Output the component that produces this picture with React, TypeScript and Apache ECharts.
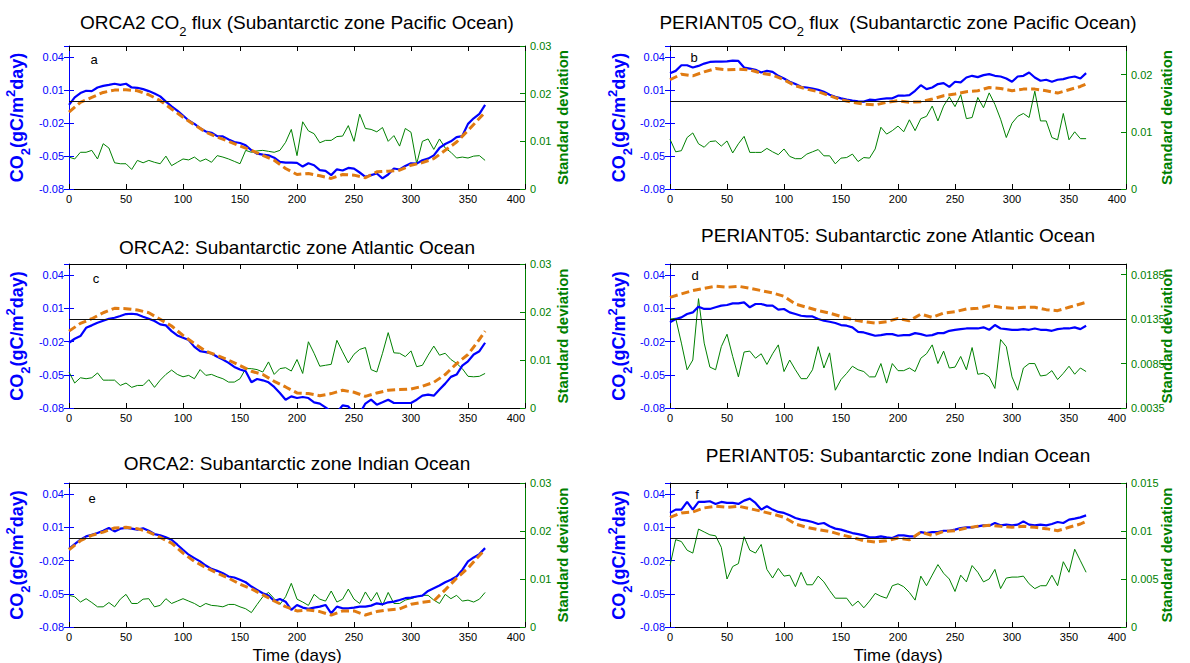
import { useEffect, useRef } from "react";
import * as echarts from "echarts";

const FONT = "'Liberation Sans', Arial, Helvetica, sans-serif";
const BLUE = "#0000ff";
const GREEN = "#008000";
const ORANGE = "#e07b12";

// Day of year for the daily flux and standard deviation series (5-day sampling)
const days5 = [
  0, 5, 10, 15, 20, 25, 30, 35, 40, 45,
  50, 55, 60, 65, 70, 75, 80, 85, 90, 95,
  100, 105, 110, 115, 120, 125, 130, 135, 140, 145,
  150, 155, 160, 165, 170, 175, 180, 185, 190, 195,
  200, 205, 210, 215, 220, 225, 230, 235, 240, 245,
  250, 255, 260, 265, 270, 275, 280, 285, 290, 295,
  300, 305, 310, 315, 320, 325, 330, 335, 340, 345,
  350, 355, 360, 365,
];
// Day of year for the smoothed (dashed) series
const days10 = [
  0, 10, 20, 30, 40, 50, 60, 70, 80, 90,
  100, 110, 120, 130, 140, 150, 160, 170, 180, 190,
  200, 210, 220, 230, 240, 250, 260, 270, 280, 290,
  300, 310, 320, 330, 340, 350, 360, 365,
];

// (a) ORCA2, Pacific
const aFlux = [
  -0.0036, 0.0033, 0.0072, 0.0093, 0.009, 0.0123, 0.0138, 0.0147, 0.0157, 0.0147,
  0.0157, 0.0123, 0.012, 0.0108, 0.009, 0.0069, 0.0042, -0.0006, -0.0048, -0.0087,
  -0.0132, -0.0177, -0.0208, -0.0247, -0.0277, -0.0289, -0.0319, -0.0322, -0.0349, -0.0373,
  -0.0382, -0.0403, -0.0448, -0.0479, -0.0488, -0.0494, -0.0515, -0.0554, -0.056, -0.056,
  -0.0563, -0.0596, -0.0566, -0.0584, -0.0629, -0.0635, -0.0674, -0.0621, -0.0632, -0.0608,
  -0.0614, -0.065, -0.0689, -0.0674, -0.0659, -0.0704, -0.0668, -0.0614, -0.0623, -0.059,
  -0.0566, -0.0569, -0.0539, -0.0524, -0.0494, -0.0427, -0.0391, -0.0367, -0.0328, -0.0319,
  -0.0208, -0.0157, -0.0117, -0.0036,
];
const aMean = [
  -0.0102, -0.0012, 0.0033, 0.0078, 0.0099, 0.0102, 0.0093, 0.0057, 0.0003, -0.0072,
  -0.0147, -0.0217, -0.0283, -0.0328, -0.0367, -0.0409, -0.0448, -0.0494, -0.0539, -0.0614,
  -0.0668, -0.0659, -0.068, -0.0704, -0.0668, -0.0674, -0.0698, -0.0644, -0.0638, -0.0629,
  -0.0584, -0.056, -0.0524, -0.0448, -0.0373, -0.0268, -0.0157, -0.0102,
];
const aStd = [
  0.0067, 0.0063, 0.0077, 0.0077, 0.0081, 0.0063, 0.0095, 0.0086, 0.0055, 0.0053,
  0.0053, 0.0041, 0.006, 0.0055, 0.006, 0.0056, 0.0053, 0.0069, 0.0049, 0.0056,
  0.0063, 0.0061, 0.0067, 0.0058, 0.0063, 0.0056, 0.007, 0.0067, 0.0063, 0.0058,
  0.0053, 0.0081, 0.0077, 0.008, 0.0081, 0.0079, 0.0077, 0.0081, 0.0098, 0.0125,
  0.007, 0.0141, 0.0122, 0.0116, 0.0097, 0.0102, 0.0102, 0.011, 0.0111, 0.0133,
  0.01, 0.0157, 0.0127, 0.0125, 0.012, 0.0129, 0.01, 0.0112, 0.009, 0.0127,
  0.0119, 0.0053, 0.01, 0.0105, 0.0083, 0.0105, 0.0086, 0.0077, 0.0065, 0.0067,
  0.0065, 0.0069, 0.007, 0.006,
];

// (b) PERIANT05, Pacific
const bFlux = [
  0.0253, 0.0274, 0.0325, 0.0325, 0.0304, 0.0319, 0.034, 0.0355, 0.0358, 0.0358,
  0.0361, 0.0367, 0.0364, 0.0304, 0.0295, 0.0283, 0.0259, 0.0274, 0.0265, 0.0229,
  0.0205, 0.0175, 0.0154, 0.0129, 0.0123, 0.0114, 0.0102, 0.0084, 0.0057, 0.0039,
  0.0024, 0.0012, 0.0003, -0.0003, -0.0006, 0.0012, 0.0009, 0.0018, 0.0024, 0.0024,
  0.0048, 0.0048, 0.0054, 0.0093, 0.0144, 0.0108, 0.0123, 0.0154, 0.0163, 0.0129,
  0.0175, 0.0169, 0.0214, 0.0229, 0.0217, 0.0235, 0.0244, 0.0229, 0.0223, 0.0205,
  0.0175, 0.0223, 0.0229, 0.0259, 0.0214, 0.0184, 0.0193, 0.0175, 0.0193, 0.0199,
  0.0214, 0.0223, 0.0205, 0.0253,
];
const bMean = [
  0.0193, 0.0244, 0.0229, 0.0265, 0.0295, 0.0283, 0.0289, 0.0283, 0.0253, 0.0235,
  0.0193, 0.0138, 0.0108, 0.0084, 0.0048, 0.0012, -0.0012, -0.0027, -0.0036, -0.0012,
  0.0003, -0.0012, -0.0006, 0.0018, 0.0048, 0.0063, 0.0084, 0.0093, 0.0123, 0.0114,
  0.0093, 0.0108, 0.0108, 0.0093, 0.0072, 0.0102, 0.0132, 0.0154,
];
const bStd = [
  0.0087, 0.0065, 0.0067, 0.009, 0.0098, 0.0079, 0.0073, 0.0083, 0.0084, 0.0075,
  0.0084, 0.0063, 0.0079, 0.0092, 0.0064, 0.0064, 0.0064, 0.0071, 0.0065, 0.006,
  0.007, 0.0057, 0.0053, 0.0053, 0.0061, 0.0065, 0.0069, 0.0058, 0.0058, 0.0044,
  0.0054, 0.0055, 0.0061, 0.0048, 0.0055, 0.0054, 0.007, 0.0108, 0.0096, 0.0102,
  0.011, 0.01, 0.0121, 0.0102, 0.0123, 0.0127, 0.0145, 0.0119, 0.0145, 0.0161,
  0.0144, 0.0165, 0.0123, 0.0125, 0.016, 0.0142, 0.0168, 0.0148, 0.0122, 0.009,
  0.0115, 0.0127, 0.0132, 0.0125, 0.0171, 0.0119, 0.0119, 0.009, 0.0086, 0.0132,
  0.0086, 0.01, 0.0088, 0.0088,
];

// (c) ORCA2, Atlantic
const cFlux = [
  -0.0211, -0.0175, -0.0151, -0.0076, -0.0054, -0.003, -0.0012, 0.0006, 0.0015, 0.003,
  0.0048, 0.0051, 0.0045, 0.0024, 0.0006, -0.0015, -0.0045, -0.0054, -0.0106, -0.0145,
  -0.0166, -0.0187, -0.0248, -0.0287, -0.0296, -0.0308, -0.0338, -0.0362, -0.0393, -0.0429,
  -0.0453, -0.0468, -0.0568, -0.0538, -0.055, -0.0568, -0.061, -0.0664, -0.0725, -0.0695,
  -0.071, -0.0701, -0.071, -0.0749, -0.0761, -0.0795, -0.083, -0.084, -0.0776, -0.0785,
  -0.085, -0.085, -0.076, -0.0725, -0.077, -0.0749, -0.0725, -0.0755, -0.0755, -0.0755,
  -0.0755, -0.0725, -0.0689, -0.068, -0.0689, -0.0634, -0.058, -0.0519, -0.0498, -0.0417,
  -0.0378, -0.0317, -0.0287, -0.0211,
];
const cMean = [
  -0.0106, -0.0036, 0.0006, 0.006, 0.01, 0.0097, 0.0085, 0.006, 0.0, -0.006,
  -0.0145, -0.0217, -0.0287, -0.0326, -0.0368, -0.0417, -0.0468, -0.0498, -0.0559, -0.061,
  -0.0664, -0.067, -0.0689, -0.067, -0.064, -0.0658, -0.0695, -0.0664, -0.064, -0.0634,
  -0.0628, -0.0604, -0.0568, -0.0498, -0.0399, -0.0317, -0.0181, -0.0106,
];
const cStd = [
  0.0075, 0.0052, 0.0063, 0.0061, 0.0063, 0.0073, 0.0058, 0.0058, 0.0058, 0.0047,
  0.0052, 0.0043, 0.0047, 0.0047, 0.0059, 0.0043, 0.0058, 0.007, 0.0079, 0.007,
  0.0065, 0.0068, 0.0061, 0.008, 0.0068, 0.007, 0.0065, 0.0061, 0.0054, 0.0054,
  0.0061, 0.0082, 0.0082, 0.008, 0.0075, 0.0096, 0.007, 0.0082, 0.0084, 0.0077,
  0.0101, 0.0072, 0.0138, 0.0114, 0.0087, 0.0089, 0.0091, 0.0141, 0.0117, 0.0094,
  0.0112, 0.0122, 0.0126, 0.008, 0.0075, 0.0114, 0.0157, 0.0115, 0.0114, 0.0107,
  0.0119, 0.0086, 0.0089, 0.011, 0.0129, 0.011, 0.0114, 0.0101, 0.0093, 0.0082,
  0.0066, 0.0065, 0.0066, 0.0072,
];

// (d) PERIANT05, Atlantic
const dFlux = [
  -0.0027, 0.0003, 0.0018, 0.0048, 0.0063, 0.0115, 0.0094, 0.0094, 0.0109, 0.0124,
  0.013, 0.0145, 0.0145, 0.0154, 0.0109, 0.0139, 0.0139, 0.0124, 0.0124, 0.0088,
  0.0094, 0.0063, 0.0048, 0.0033, 0.0027, 0.0027, 0.0003, -0.0012, -0.0021, -0.0033,
  -0.0051, -0.0057, -0.0072, -0.0112, -0.0118, -0.0133, -0.0148, -0.0142, -0.0133, -0.0133,
  -0.0148, -0.0142, -0.0142, -0.0124, -0.0133, -0.0148, -0.0142, -0.0124, -0.0124, -0.0103,
  -0.0094, -0.0088, -0.0082, -0.0082, -0.0082, -0.0072, -0.0094, -0.0051, -0.0082, -0.0088,
  -0.0094, -0.0094, -0.0088, -0.0094, -0.0082, -0.0094, -0.0094, -0.0103, -0.0088, -0.0082,
  -0.0082, -0.0072, -0.0088, -0.0057,
];
const dMean = [
  0.0199, 0.023, 0.026, 0.0281, 0.0299, 0.029, 0.0299, 0.0281, 0.026, 0.0239,
  0.0208, 0.0139, 0.0109, 0.0079, 0.0057, 0.0027, -0.0003, -0.0021, -0.0033, -0.0021,
  0.0009, -0.0012, 0.0048, 0.0018, 0.0057, 0.0069, 0.0094, 0.01, 0.0124, 0.0109,
  0.01, 0.0109, 0.0109, 0.0088, 0.0079, 0.0109, 0.0139, 0.0154,
];
const dStd = [
  0.0135, 0.0136, 0.0108, 0.0078, 0.0089, 0.0158, 0.0108, 0.0081, 0.0078, 0.0104,
  0.0118, 0.0093, 0.007, 0.0098, 0.0099, 0.0091, 0.0096, 0.0084, 0.0096, 0.0106,
  0.0076, 0.0089, 0.0078, 0.0068, 0.0068, 0.0078, 0.0104, 0.008, 0.0097, 0.0055,
  0.0067, 0.0074, 0.0082, 0.0078, 0.0076, 0.007, 0.007, 0.0085, 0.0063, 0.0085,
  0.0077, 0.0077, 0.008, 0.0076, 0.0091, 0.0096, 0.0106, 0.0085, 0.0099, 0.008,
  0.0081, 0.0093, 0.0078, 0.0103, 0.0073, 0.0074, 0.007, 0.0057, 0.0112, 0.0104,
  0.007, 0.0055, 0.008, 0.0085, 0.0085, 0.0071, 0.0072, 0.0077, 0.0067, 0.0074,
  0.0082, 0.0073, 0.008, 0.0076,
];

// (e) ORCA2, Indian
const eFlux = [
  -0.0094, -0.0051, -0.0012, 0.0018, 0.0033, 0.0048, 0.0069, 0.0094, 0.0063, 0.0088,
  0.0094, 0.0088, 0.0079, 0.0092, 0.0069, 0.0039, 0.0027, 0.0009, -0.0012, -0.0057,
  -0.0103, -0.0148, -0.0178, -0.0208, -0.0245, -0.0275, -0.0293, -0.0314, -0.0344, -0.0353,
  -0.0374, -0.0396, -0.0435, -0.0465, -0.0495, -0.0516, -0.0565, -0.0547, -0.0571, -0.0646,
  -0.0601, -0.0625, -0.0637, -0.0625, -0.0616, -0.0601, -0.0676, -0.0616, -0.0631, -0.0631,
  -0.0625, -0.0616, -0.0616, -0.0607, -0.0586, -0.0595, -0.0577, -0.0571, -0.0556, -0.054,
  -0.0535, -0.0525, -0.0516, -0.0474, -0.045, -0.0426, -0.0396, -0.0374, -0.0344, -0.0284,
  -0.0208, -0.0172, -0.0142, -0.0088,
];
const eMean = [
  -0.0103, -0.0021, 0.0027, 0.0057, 0.0094, 0.01, 0.0088, 0.0057, 0.0009, -0.0042,
  -0.0133, -0.0208, -0.0263, -0.0314, -0.0359, -0.0414, -0.0456, -0.051, -0.0565, -0.0616,
  -0.0655, -0.0646, -0.0661, -0.0692, -0.0655, -0.0655, -0.0692, -0.0661, -0.0646, -0.0637,
  -0.0595, -0.0577, -0.0565, -0.0465, -0.0359, -0.0269, -0.0154, -0.0103,
];
const eStd = [
  0.0066, 0.0063, 0.0052, 0.0059, 0.0051, 0.0042, 0.0042, 0.0051, 0.0042, 0.0058,
  0.0068, 0.0049, 0.0049, 0.0058, 0.0059, 0.0042, 0.0045, 0.0059, 0.0049, 0.0054,
  0.0059, 0.0054, 0.0049, 0.0042, 0.0049, 0.0045, 0.0044, 0.0042, 0.0047, 0.0047,
  0.0042, 0.0038, 0.003, 0.0047, 0.0063, 0.0072, 0.0059, 0.0047, 0.0063, 0.0091,
  0.0058, 0.0052, 0.0045, 0.0068, 0.0058, 0.0054, 0.0075, 0.0052, 0.0058, 0.0079,
  0.0058, 0.0049, 0.0073, 0.0054, 0.0072, 0.0045, 0.0072, 0.0049, 0.0049, 0.0056,
  0.0059, 0.0063, 0.0066, 0.0066, 0.0056, 0.0049, 0.0068, 0.0059, 0.0066, 0.0054,
  0.0056, 0.0052, 0.0058, 0.0072,
];

// (f) PERIANT05, Indian
const fFlux = [
  0.023, 0.026, 0.026, 0.0329, 0.026, 0.0329, 0.0329, 0.0335, 0.0311, 0.0329,
  0.032, 0.032, 0.0311, 0.0341, 0.0359, 0.032, 0.026, 0.029, 0.026, 0.0239,
  0.023, 0.0208, 0.0184, 0.0169, 0.016, 0.0148, 0.013, 0.0139, 0.0109, 0.0088,
  0.0079, 0.0063, 0.0048, 0.0039, 0.0027, 0.0009, 0.0009, 0.0018, 0.0009, 0.0003,
  0.0027, 0.0027, 0.0018, 0.0018, 0.0057, 0.0048, 0.0057, 0.0057, 0.0069, 0.0069,
  0.0079, 0.0094, 0.01, 0.01, 0.0109, 0.0118, 0.0115, 0.0139, 0.0118, 0.0124,
  0.0118, 0.0124, 0.0154, 0.0124, 0.0118, 0.0124, 0.0118, 0.013, 0.0148, 0.0139,
  0.0169, 0.0178, 0.019, 0.0208,
];
const fMean = [
  0.019, 0.023, 0.0239, 0.0275, 0.029, 0.0281, 0.029, 0.0269, 0.0245, 0.022,
  0.019, 0.013, 0.01, 0.0079, 0.0063, 0.0033, 0.0009, -0.0021, -0.0033, -0.0021,
  0.0003, -0.0012, 0.0057, 0.0027, 0.0063, 0.0069, 0.0094, 0.0109, 0.0118, 0.0109,
  0.01, 0.0109, 0.01, 0.0088, 0.0069, 0.01, 0.013, 0.0154,
];
const fStd = [
  0.0064, 0.0091, 0.0089, 0.008, 0.0077, 0.0102, 0.0099, 0.0096, 0.0095, 0.0083,
  0.005, 0.0063, 0.0066, 0.0094, 0.008, 0.0077, 0.0086, 0.006, 0.0051, 0.0061,
  0.0053, 0.0054, 0.0042, 0.0057, 0.0044, 0.0044, 0.0053, 0.0047, 0.0038, 0.003,
  0.003, 0.003, 0.0022, 0.0027, 0.002, 0.0027, 0.0035, 0.0032, 0.003, 0.0043,
  0.0045, 0.0042, 0.0036, 0.0028, 0.0053, 0.0043, 0.0054, 0.0065, 0.0056, 0.005,
  0.0037, 0.0054, 0.0047, 0.0064, 0.0057, 0.0047, 0.005, 0.006, 0.004, 0.0051,
  0.0052, 0.0052, 0.0053, 0.0045, 0.004, 0.0043, 0.0043, 0.0054, 0.0043, 0.0068,
  0.0057, 0.0081, 0.0069, 0.0057,
];

// Flux axis (left) ticks
const fluxMin = -0.08;
const fluxMax = 0.05;
const fluxStep = 0.03;
const zeroFlux = 0;

type Panel = {
  letter: string;
  title: string;
  flux: number[];
  mean: number[];
  std: number[];
  sdMin: number;
  sdMax: number;
  sdStep: number;
  sdMaxLabel: boolean;
  col: number;
  row: number;
  titleY: number;
  letterDX: number;
  letterDY: number;
};

const panels: Panel[] = [
  { letter: "a", title: "ORCA2 CO{s|2} flux (Subantarctic zone Pacific Ocean)", flux: aFlux, mean: aMean, std: aStd, sdMin: 0, sdMax: 0.03, sdStep: 0.01, sdMaxLabel: true, col: 0, row: 0, titleY: 22, letterDX: 25, letterDY: 13 },
  { letter: "b", title: "PERIANT05 CO{s|2} flux  (Subantarctic zone Pacific Ocean)", flux: bFlux, mean: bMean, std: bStd, sdMin: 0, sdMax: 0.025, sdStep: 0.01, sdMaxLabel: false, col: 1, row: 0, titleY: 22, letterDX: 24, letterDY: 11 },
  { letter: "c", title: "ORCA2: Subantarctic zone Atlantic Ocean", flux: cFlux, mean: cMean, std: cStd, sdMin: 0, sdMax: 0.03, sdStep: 0.01, sdMaxLabel: true, col: 0, row: 1, titleY: 247, letterDX: 27, letterDY: 14 },
  { letter: "d", title: "PERIANT05: Subantarctic zone Atlantic Ocean", flux: dFlux, mean: dMean, std: dStd, sdMin: 0.0035, sdMax: 0.0197, sdStep: 0.005, sdMaxLabel: false, col: 1, row: 1, titleY: 235, letterDX: 25, letterDY: 11 },
  { letter: "e", title: "ORCA2: Subantarctic zone Indian Ocean", flux: eFlux, mean: eMean, std: eStd, sdMin: 0, sdMax: 0.03, sdStep: 0.01, sdMaxLabel: true, col: 0, row: 2, titleY: 463, letterDX: 23, letterDY: 15 },
  { letter: "f", title: "PERIANT05: Subantarctic zone Indian Ocean", flux: fFlux, mean: fMean, std: fStd, sdMin: 0, sdMax: 0.015, sdStep: 0.005, sdMaxLabel: true, col: 1, row: 2, titleY: 455, letterDX: 27, letterDY: 11 },
];

const COL_LEFT = [69, 670];
const ROW_TOP = [46, 264, 483];
const ROW_H = [143, 144, 144];
const GRID_W = 456;
const CO2_LABEL_X = [17, 619];
const SD_LABEL_X = [562, 1166];

const fmt = (digits: number) => (v: number) => String(parseFloat(Number(v).toFixed(digits)));

function buildOption() {
  const grid: any[] = [];
  const xAxis: any[] = [];
  const yAxis: any[] = [];
  const series: any[] = [];
  const graphic: any[] = [];

  panels.forEach((p, i) => {
    const left = COL_LEFT[p.col];
    const top = ROW_TOP[p.row];
    const height = ROW_H[p.row];
    grid.push({ left, top, width: GRID_W, height });

    const xBase = {
      gridIndex: i,
      type: "value",
      min: 0,
      max: 400,
      interval: 50,
      splitLine: { show: false },
      axisLine: { show: true, onZero: false, lineStyle: { color: "#000", width: 1 } },
      axisTick: { show: true, inside: true, length: 5, lineStyle: { color: "#000" } },
    };
    xAxis.push({
      ...xBase,
      position: "bottom",
      axisLabel: { color: "#000", fontSize: 11, fontFamily: FONT, margin: 4, alignMaxLabel: "right" },
    });
    xAxis.push({ ...xBase, position: "top", axisLabel: { show: false } });

    const fluxBase = {
      gridIndex: i,
      type: "value",
      min: fluxMin,
      max: fluxMax,
      interval: fluxStep,
      splitLine: { show: false },
      axisTick: { show: true, inside: true, length: 5, lineStyle: { color: BLUE } },
    };
    yAxis.push({
      ...fluxBase,
      position: "left",
      axisLine: { show: true, onZero: false, lineStyle: { color: BLUE } },
      axisLabel: {
        color: BLUE,
        fontSize: 11,
        fontFamily: FONT,
        margin: 5,
        showMaxLabel: false,
        formatter: fmt(3),
      },
    });
    yAxis.push({
      ...fluxBase,
      position: "right",
      axisLine: { show: false },
      axisLabel: { show: false },
    });
    yAxis.push({
      gridIndex: i,
      type: "value",
      position: "right",
      min: p.sdMin,
      max: p.sdMax,
      interval: p.sdStep,
      splitLine: { show: false },
      axisLine: { show: true, onZero: false, lineStyle: { color: GREEN } },
      axisTick: { show: true, inside: true, length: 5, lineStyle: { color: GREEN } },
      axisLabel: {
        color: GREEN,
        fontSize: 11,
        fontFamily: FONT,
        margin: 5,
        showMaxLabel: p.sdMaxLabel,
        formatter: fmt(4),
      },
    });

    const xIdx = 2 * i;
    const yFlux = 3 * i;
    const ySd = 3 * i + 2;

    series.push({
      type: "line",
      xAxisIndex: xIdx,
      yAxisIndex: ySd,
      data: days5.map((d, k) => [d, p.std[k]]),
      symbol: "none",
      silent: true,
      z: 2,
      lineStyle: { color: GREEN, width: 1 },
    });
    series.push({
      type: "line",
      xAxisIndex: xIdx,
      yAxisIndex: yFlux,
      data: days5.map((d, k) => [d, p.flux[k]]),
      symbol: "none",
      silent: true,
      z: 3,
      lineStyle: { color: BLUE, width: 2.2 },
      markLine: {
        silent: true,
        symbol: ["none", "none"],
        label: { show: false },
        lineStyle: { color: "#111", width: 1, type: "solid" },
        data: [{ yAxis: zeroFlux }],
      },
    });
    series.push({
      type: "line",
      xAxisIndex: xIdx,
      yAxisIndex: yFlux,
      data: days10.map((d, k) => [d, p.mean[k]]),
      symbol: "none",
      silent: true,
      z: 4,
      lineStyle: { color: ORANGE, width: 3, type: [8, 4] },
    });

    const cx = left + GRID_W / 2;
    const cy = top + height / 2;

    graphic.push({
      type: "text",
      x: cx,
      y: p.titleY,
      silent: true,
      style: {
        text: p.title,
        fontSize: 19,
        fontFamily: FONT,
        fill: "#000",
        align: "center",
        verticalAlign: "middle",
        textAlign: "center",
        textVerticalAlign: "middle",
        rich: {
          s: { fontSize: 13, fontFamily: FONT, fill: "#000", padding: [18, 0, 0, 0] },
        },
      },
    });
    graphic.push({
      type: "text",
      x: left + p.letterDX,
      y: top + p.letterDY,
      silent: true,
      style: {
        text: p.letter,
        fontSize: 13,
        fontFamily: FONT,
        fill: "#000",
        align: "center",
        verticalAlign: "middle",
        textAlign: "center",
        textVerticalAlign: "middle",
      },
    });
    graphic.push({
      type: "text",
      x: CO2_LABEL_X[p.col],
      y: cy,
      rotation: Math.PI / 2,
      silent: true,
      style: {
        text: "CO{sub|2}(gC/m{sup|2}day)",
        fontSize: 18,
        fontWeight: "bold",
        fontFamily: FONT,
        fill: BLUE,
        align: "center",
        verticalAlign: "middle",
        textAlign: "center",
        textVerticalAlign: "middle",
        rich: {
          sub: { fontSize: 13, fontWeight: "bold", fontFamily: FONT, fill: BLUE, padding: [16, 0, 0, 0] },
          sup: { fontSize: 13, fontWeight: "bold", fontFamily: FONT, fill: BLUE, padding: [0, 0, 14, 0] },
        },
      },
    });
    graphic.push({
      type: "text",
      x: SD_LABEL_X[p.col],
      y: cy,
      rotation: Math.PI / 2,
      silent: true,
      style: {
        text: "Standard deviation",
        fontSize: 15,
        fontWeight: "bold",
        fontFamily: FONT,
        fill: GREEN,
        align: "center",
        verticalAlign: "middle",
        textAlign: "center",
        textVerticalAlign: "middle",
      },
    });
    if (p.row === 2) {
      graphic.push({
        type: "text",
        x: cx,
        y: 655,
        silent: true,
        style: {
          text: "Time (days)",
          fontSize: 17,
          fontFamily: FONT,
          fill: "#000",
          align: "center",
          verticalAlign: "middle",
          textAlign: "center",
          textVerticalAlign: "middle",
        },
      });
    }
  });

  return {
    animation: false,
    backgroundColor: "#ffffff",
    grid,
    xAxis,
    yAxis,
    series,
    graphic,
  };
}

export default function App() {
  const ref = useRef<HTMLDivElement>(null);

  useEffect(() => {
    if (!ref.current) return;
    const chart = echarts.init(ref.current, undefined, { renderer: "svg" });
    chart.setOption(buildOption());
    return () => chart.dispose();
  }, []);

  return (
    <div
      ref={ref}
      style={{ position: "absolute", left: 0, top: 0, width: 1190, height: 663, background: "#fff" }}
    />
  );
}
